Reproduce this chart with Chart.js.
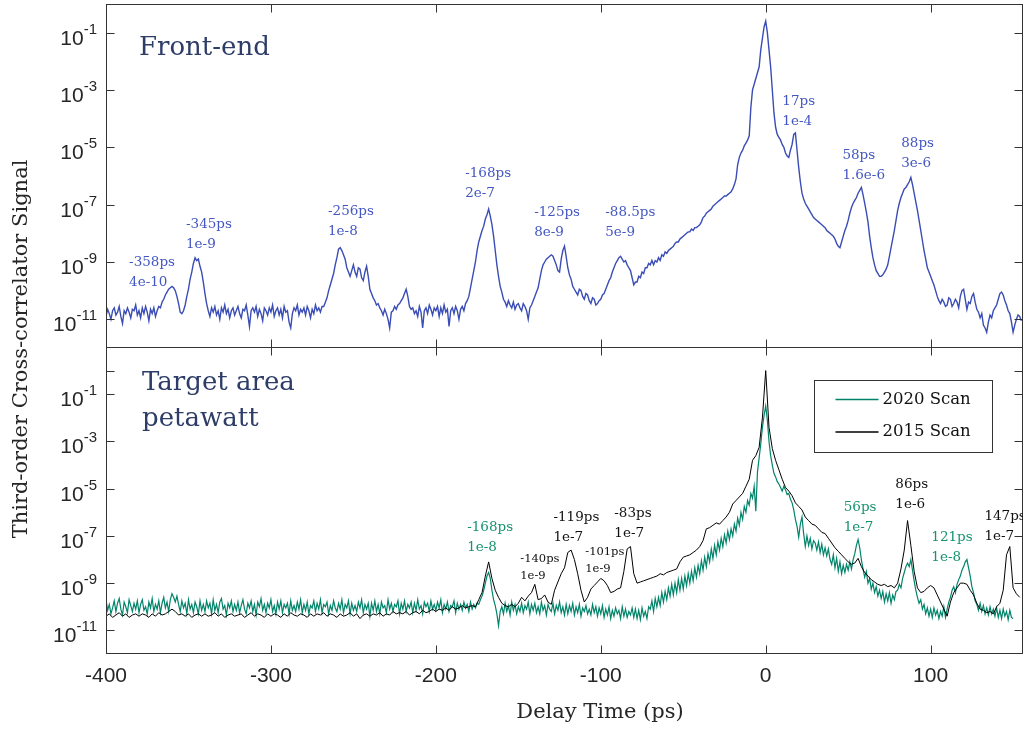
<!DOCTYPE html>
<html>
<head>
<meta charset="utf-8">
<title>Third-order cross-correlator scans</title>
<script src="https://cdn.jsdelivr.net/npm/chart.js@4.4.1/dist/chart.umd.min.js"></script>
<style>
  html, body { margin: 0; padding: 0; background: #fff; }
  #wrap { position: relative; width: 1023px; height: 729px; }
  #wrap canvas { position: absolute; left: 0; top: 0; }
</style>
</head>
<body>
<div id="wrap">
  <canvas id="frontEnd" width="1023" height="729"></canvas>
  <canvas id="targetArea" width="1023" height="729"></canvas>
</div>
<script>
// Delay grids from -400 ps: 1 ps steps (front-end, 2020) and 2 ps steps (2015)
const delayFine = Array.from({ length: 556 }, (_, i) => -400 + i);
const delayCoarse = Array.from({ length: 278 }, (_, i) => -400 + 2 * i);

// log10 of signal (one row = 20 ps)
const frontEndLog = [
  -10.9, -10.65, -10.8, -11.0, -10.7, -10.6, -10.85, -10.75, -10.55, -10.9, -11.15, -10.7, -10.8, -10.6, -10.75, -10.95, -10.65, -10.7, -10.5, -10.85,   // -400
  -10.7, -10.95, -10.6, -10.8, -10.55, -10.75, -11.05, -10.65, -10.8, -10.6, -10.9, -10.7, -10.55, -10.6, -10.4, -10.3, -10.15, -10.05, -9.95, -9.9,     // -380
  -9.85, -9.9, -10.0, -10.2, -10.45, -10.75, -10.8, -10.7, -10.5, -10.2, -9.95, -9.6, -9.35, -9.05, -8.85, -8.95, -8.9, -9.15, -9.35, -9.7,             // -360
  -10.1, -10.45, -10.7, -10.9, -10.6, -10.75, -10.55, -10.85, -10.7, -11.0, -10.6, -10.75, -10.5, -10.8, -10.65, -10.95, -10.7, -10.6, -10.85, -10.7,   // -340
  -10.55, -10.8, -10.95, -10.65, -10.7, -10.5, -10.85, -11.25, -10.7, -10.6, -10.75, -10.55, -10.9, -10.65, -10.8, -11.05, -10.6, -10.7, -10.85, -10.6, // -320
  -10.75, -10.5, -10.9, -10.7, -10.6, -10.85, -10.65, -10.95, -10.55, -10.75, -10.7, -11.1, -11.3, -10.8, -10.6, -10.7, -10.5, -10.85, -10.65, -10.75,  // -300
  -10.6, -10.85, -10.55, -10.7, -10.95, -10.65, -10.8, -10.5, -10.7, -10.6, -10.75, -10.55, -10.55, -10.4, -10.25, -10.0, -9.8, -9.6, -9.4, -9.1,       // -280
  -8.85, -8.55, -8.5, -8.6, -8.75, -8.9, -9.2, -9.35, -9.5, -9.3, -9.1, -9.35, -9.5, -9.2, -9.25, -9.55, -9.65, -9.35, -9.15, -9.5,                     // -260
  -9.95, -10.1, -10.25, -10.35, -10.5, -10.45, -10.6, -10.7, -10.85, -10.65, -10.8, -11.0, -11.3, -10.75, -10.7, -10.55, -10.65, -10.5, -10.45, -10.35, // -240
  -10.25, -10.1, -9.95, -10.2, -10.55, -10.65, -10.6, -10.8, -10.7, -10.9, -10.55, -10.75, -11.3, -10.7, -10.6, -10.8, -10.5, -10.65, -10.85, -10.6,    // -220
  -10.7, -10.55, -10.9, -10.6, -10.8, -10.5, -10.75, -10.65, -11.25, -10.7, -10.6, -10.8, -10.55, -10.7, -11.0, -10.65, -10.55, -10.7, -10.45, -10.35,  // -200
  -10.2, -9.9, -9.6, -9.3, -9.0, -8.6, -8.3, -8.1, -7.9, -7.75, -7.5, -7.35, -7.15, -7.4, -7.7, -8.1, -8.6, -9.1, -9.5, -9.85,                          // -180
  -10.05, -10.3, -10.4, -10.55, -10.35, -10.5, -10.6, -10.4, -10.65, -10.5, -10.45, -10.6, -10.7, -10.45, -10.55, -10.7, -11.0, -10.6, -10.5, -10.35,   // -160
  -10.2, -10.05, -9.9, -9.6, -9.3, -9.1, -9.0, -8.9, -8.85, -8.8, -8.75, -8.8, -8.95, -9.1, -9.3, -9.35, -8.9, -8.6, -8.45, -8.8,                       // -140
  -9.2, -9.45, -9.6, -9.85, -9.95, -10.05, -10.15, -9.95, -10.0, -10.2, -10.3, -10.1, -10.15, -10.35, -10.45, -10.25, -10.3, -10.5, -10.45, -10.35,     // -120
  -10.3, -10.15, -10.1, -9.95, -9.8, -9.65, -9.55, -9.35, -9.2, -9.05, -8.95, -8.85, -8.8, -8.9, -9.0, -8.95, -9.1, -9.2, -9.3, -9.55,                  // -100
  -9.8, -9.7, -9.7, -9.5, -9.55, -9.35, -9.4, -9.2, -9.2, -9.05, -9.1, -8.95, -9.1, -8.95, -9.0, -8.85, -8.95, -8.75, -8.8, -8.65,                      // -80
  -8.7, -8.6, -8.55, -8.5, -8.45, -8.35, -8.3, -8.3, -8.2, -8.15, -8.1, -8.05, -8.0, -7.95, -7.95, -7.85, -7.9, -7.8, -7.8, -7.75,                      // -60
  -7.7, -7.6, -7.45, -7.4, -7.3, -7.25, -7.2, -7.15, -7.05, -7.0, -6.95, -6.9, -6.85, -6.8, -6.75, -6.7, -6.7, -6.65, -6.6, -6.55,                      // -40
  -6.45, -6.3, -6.1, -5.6, -5.35, -5.2, -5.1, -4.95, -4.85, -4.75, -4.6, -3.6, -3.0, -2.8, -2.6, -2.4, -2.2, -1.6, -1.2, -0.8,                          // -20
  -0.6, -1.0, -1.6, -2.2, -3.0, -3.8, -4.3, -4.55, -4.65, -4.75, -4.9, -5.0, -5.2, -5.3, -5.35, -5.1, -4.9, -4.55, -4.5, -5.1,                          // 0
  -5.7, -6.2, -6.6, -6.8, -6.95, -7.05, -7.15, -7.25, -7.35, -7.45, -7.5, -7.55, -7.6, -7.65, -7.7, -7.75, -7.8, -7.9, -7.95, -8.0,                     // 20
  -8.05, -8.1, -8.2, -8.35, -8.45, -8.5, -8.3, -8.1, -7.9, -7.75, -7.55, -7.3, -7.1, -6.95, -6.85, -6.75, -6.6, -6.5, -6.4, -6.65,                      // 40
  -6.95, -7.25, -7.6, -8.1, -8.5, -8.85, -9.1, -9.3, -9.4, -9.5, -9.5, -9.45, -9.35, -9.25, -9.1, -8.8, -8.5, -8.2, -7.9, -7.55,                        // 60
  -7.2, -6.95, -6.75, -6.6, -6.45, -6.4, -6.3, -6.2, -6.05, -6.3, -6.6, -6.9, -7.2, -7.55, -7.9, -8.25, -8.6, -8.9, -9.2, -9.35,                        // 80
  -9.5, -9.65, -9.8, -10.0, -10.2, -10.35, -10.45, -10.3, -10.4, -10.55, -10.5, -10.25, -10.3, -10.55, -10.45, -10.3, -10.4, -10.6, -10.2, -10.0,       // 100
  -9.95, -10.3, -10.65, -10.4, -10.45, -10.2, -10.1, -10.4, -10.65, -10.75, -10.95, -10.8, -11.2, -11.3, -11.45, -11.1, -10.85, -10.95, -10.7, -10.6,   // 120
  -10.5, -10.3, -10.1, -10.05, -10.15, -10.35, -10.5, -10.7, -10.8, -11.1, -11.45, -11.2, -11.0, -10.85, -10.9, -11.05                                  // 140
];

const scan2020Log = [
  -9.7, -10.15, -9.9, -10.3, -10.05, -9.75, -10.2, -9.85, -9.65, -10.1, -10.35, -9.8, -10.0, -10.25, -9.7, -9.95, -10.2, -9.85, -10.1, -9.75,           // -400
  -10.25, -9.9, -9.7, -10.15, -10.0, -10.3, -9.8, -10.05, -9.65, -10.2, -9.9, -10.1, -9.75, -10.25, -9.85, -9.6, -10.05, -9.8, -10.2, -9.7,             // -380
  -9.45, -9.6, -9.8, -9.55, -9.9, -10.2, -9.75, -10.05, -9.85, -10.3, -9.7, -10.1, -9.9, -10.25, -9.8, -10.0, -10.3, -9.75, -10.15, -9.9,               // -360
  -10.2, -9.75, -10.05, -9.85, -10.3, -9.7, -10.15, -9.9, -10.25, -9.8, -9.65, -10.1, -9.95, -10.35, -9.85, -10.05, -9.75, -10.2, -9.9, -10.15,         // -340
  -9.8, -10.25, -9.95, -9.7, -10.1, -10.3, -9.85, -10.05, -9.75, -10.2, -9.9, -10.35, -9.8, -10.0, -9.65, -10.15, -9.9, -10.25, -9.85, -10.05,          // -320
  -9.7, -10.2, -9.95, -10.3, -9.8, -10.1, -9.75, -10.25, -9.9, -10.05, -9.85, -10.3, -9.75, -10.15, -9.95, -10.2, -9.8, -10.1, -9.7, -10.25,            // -300
  -9.9, -10.15, -9.8, -10.3, -9.95, -10.05, -9.75, -10.2, -9.85, -10.1, -9.7, -10.25, -9.9, -10.0, -9.8, -10.3, -9.95, -10.15, -9.75, -10.05,           // -280
  -10.2, -9.85, -10.1, -9.7, -10.25, -9.9, -10.05, -9.75, -10.3, -9.85, -10.15, -9.95, -10.2, -9.8, -10.05, -9.7, -10.25, -9.9, -10.1, -9.85,           // -260
  -10.4, -9.85, -10.15, -9.75, -10.2, -9.9, -10.3, -9.8, -10.05, -9.95, -10.25, -9.7, -10.1, -9.85, -10.2, -9.9, -10.0, -9.75, -10.3, -9.85,            // -240
  -10.1, -9.75, -10.2, -9.9, -10.05, -9.8, -10.25, -9.85, -10.15, -9.7, -10.1, -9.95, -10.3, -9.8, -10.0, -9.85, -10.2, -9.75, -10.1, -9.9,             // -220
  -10.15, -9.8, -10.05, -9.7, -10.25, -9.9, -10.1, -9.8, -10.2, -9.95, -10.0, -9.75, -10.25, -9.85, -10.1, -9.9, -10.15, -9.8, -10.05, -9.9,            // -200
  -10.2, -9.8, -10.1, -9.9, -10.05, -9.85, -9.9, -9.7, -9.55, -9.3, -9.0, -8.7, -8.55, -8.8, -9.3, -9.7, -9.95, -10.3, -10.8, -10.2,                   // -180
  -10.0, -10.3, -9.85, -10.2, -9.95, -10.35, -9.8, -10.15, -9.9, -10.3, -10.0, -10.2, -9.85, -10.25, -9.95, -10.1, -9.8, -10.3, -9.9, -10.15,           // -160
  -9.85, -10.25, -10.0, -10.3, -9.8, -10.15, -9.95, -10.35, -9.9, -10.1, -10.2, -9.85, -10.3, -9.95, -10.15, -9.8, -10.25, -10.0, -10.35, -9.9,         // -140
  -10.3, -9.95, -10.2, -9.85, -10.35, -10.0, -10.25, -9.9, -10.4, -10.05, -10.2, -9.95, -10.3, -10.1, -10.35, -9.9, -10.25, -10.0, -10.4, -10.05,       // -120
  -10.3, -9.95, -10.45, -10.1, -10.35, -10.0, -10.5, -10.15, -10.4, -10.05, -10.3, -10.15, -10.5, -10.0, -10.4, -10.1, -10.45, -10.2, -10.35, -10.05,   // -100
  -10.45, -10.1, -10.5, -10.15, -10.55, -10.05, -10.4, -10.2, -10.5, -10.0, -10.1, -9.75, -10.2, -9.65, -10.0, -9.6, -9.95, -9.4, -9.8, -9.35,          // -80
  -9.7, -9.2, -9.55, -9.05, -9.5, -9.0, -9.4, -8.85, -9.3, -8.8, -9.25, -8.7, -9.1, -8.6, -9.0, -8.5, -8.9, -8.35, -8.75, -8.25,                        // -60
  -8.6, -8.05, -8.45, -7.9, -8.3, -7.75, -8.1, -7.55, -7.95, -7.4, -7.8, -7.25, -7.6, -7.1, -7.45, -6.95, -7.3, -6.8, -7.15, -6.7,                      // -40
  -7.0, -6.5, -6.8, -6.25, -6.55, -6.0, -6.3, -5.75, -6.0, -5.5, -5.7, -5.2, -5.4, -4.9, -5.95, -4.3, -3.7, -3.1, -2.4, -1.9,                           // -20
  -1.5, -2.1, -3.0, -3.6, -4.0, -4.35, -4.5, -4.7, -4.8, -4.95, -5.1, -4.9, -5.05, -5.25, -5.2, -5.45, -5.6, -5.9, -6.3, -6.6,                          // 0
  -7.05, -6.5, -6.2, -6.9, -7.45, -7.0, -7.4, -7.1, -7.55, -7.2, -7.3, -7.6, -7.25, -7.7, -7.35, -7.8, -7.5, -7.85, -7.55, -8.0,                        // 20
  -8.2, -7.8, -8.35, -7.95, -8.5, -8.1, -8.6, -8.25, -8.55, -8.2, -8.45, -8.1, -8.4, -8.0, -7.75, -7.4, -7.15, -7.5, -8.0, -8.4,                        // 40
  -8.75, -8.5, -9.0, -8.8, -9.25, -9.0, -9.4, -9.15, -9.55, -9.3, -9.65, -9.35, -9.8, -9.45, -9.75, -9.4, -9.85, -9.5, -9.7, -9.35,                     // 60
  -9.3, -9.05, -9.2, -8.8, -8.55, -8.3, -8.15, -8.3, -8.0, -8.45, -8.9, -9.3, -9.6, -9.85, -9.7, -10.1, -9.9, -10.3, -10.05, -10.4,                     // 80
  -10.1, -10.45, -10.05, -10.35, -10.15, -10.5, -10.2, -10.4, -10.0, -10.45, -10.1, -9.8, -9.6, -9.3, -9.15, -9.4, -9.05, -8.85, -8.7, -8.45,           // 100
  -8.3, -8.1, -8.0, -8.35, -8.7, -9.15, -9.4, -9.75, -9.9, -10.15, -9.85, -10.2, -9.95, -10.3, -10.05, -10.35, -10.0, -10.3, -10.1, -10.4,              // 120
  -10.05, -10.45, -10.15, -10.5, -10.1, -10.4, -10.2, -10.55, -10.15, -10.45, -10.5                                                                  // 140
];

const scan2015Log = [
  -10.4, -10.3, -10.45, -10.35, -10.25, -10.4, -10.3, -10.45, -10.35, -10.3,   // -400
  -10.4, -10.3, -10.35, -10.45, -10.3, -10.4, -10.25, -10.35, -10.3, -10.2,    // -380
  -10.1, -10.2, -10.35, -10.3, -10.4, -10.3, -10.45, -10.35, -10.3, -10.4,     // -360
  -10.3, -10.4, -10.35, -10.25, -10.4, -10.3, -10.45, -10.35, -10.3, -10.4,    // -340
  -10.35, -10.3, -10.45, -10.35, -10.25, -10.4, -10.3, -10.35, -10.45, -10.3,  // -320
  -10.4, -10.3, -10.35, -10.45, -10.3, -10.4, -10.25, -10.35, -10.4, -10.3,    // -300
  -10.35, -10.45, -10.3, -10.4, -10.3, -10.35, -10.25, -10.4, -10.3, -10.35,   // -280
  -10.45, -10.3, -10.4, -10.35, -10.25, -10.4, -10.3, -10.5, -10.35, -10.3,    // -260
  -10.4, -10.3, -10.35, -10.25, -10.4, -10.3, -10.35, -10.2, -10.3, -10.25,    // -240
  -10.3, -10.2, -10.35, -10.25, -10.2, -10.3, -10.15, -10.25, -10.2, -10.1,    // -220
  -10.2, -10.1, -10.15, -10.05, -10.15, -10.0, -10.1, -10.05, -9.95, -10.05,   // -200
  -10.0, -9.95, -10.0, -9.7, -9.4, -8.7, -8.1, -8.8, -9.3, -9.6,               // -180
  -9.85, -9.95, -10.0, -9.9, -10.0, -9.85, -9.6, -9.75, -9.55, -9.4,           // -160
  -9.05, -9.7, -9.65, -9.5, -9.8, -9.9, -9.3, -8.95, -8.6, -8.35,              // -140
  -7.7, -7.6, -8.0, -8.6, -9.3, -9.8, -9.6, -9.25, -9.1, -8.95,                // -120
  -8.8, -8.9, -9.1, -9.4, -9.35, -9.25, -9.2, -8.5, -7.55, -7.45,              // -100
  -8.6, -9.0, -8.95, -8.9, -8.85, -8.8, -8.75, -8.7, -8.6, -8.65,              // -80
  -8.55, -8.5, -8.45, -8.4, -8.1, -7.9, -7.85, -7.8, -7.7, -7.6,               // -60
  -7.45, -7.2, -6.7, -6.65, -6.55, -6.45, -6.5, -6.35, -6.2, -6.0,             // -40
  -5.65, -5.5, -5.35, -5.2, -4.9, -4.6, -3.8, -3.6, -3.25, -2.0,               // -20
  0.0, -2.4, -3.3, -3.8, -4.2, -4.6, -4.95, -5.1, -5.3, -5.6,                  // 0
  -5.75, -5.9, -6.2, -6.35, -6.5, -6.55, -6.7, -6.85, -6.9, -7.1,              // 20
  -7.3, -7.5, -7.65, -7.8, -7.95, -8.1, -8.2, -8.15, -7.95, -8.3,              // 40
  -8.55, -8.7, -8.85, -8.95, -9.05, -9.1, -9.05, -9.15, -9.1, -9.2,            // 60
  -9.0, -8.4, -7.6, -6.35, -7.4, -8.5, -9.2, -9.4, -9.35, -9.2,                // 80
  -9.1, -9.2, -9.5, -9.8, -10.1, -10.4, -9.8, -9.4, -9.2, -9.0,                // 100
  -9.0, -9.05, -9.3, -9.5, -9.85, -10.1, -10.15, -10.25, -10.2, -10.3,         // 120
  -10.0, -9.85, -9.3, -7.8, -7.45, -9.2, -9.45, -9.6                           // 140
];

const xTickValues = [-400, -300, -200, -100, 0, 100];
const topExponents = [-11, -9, -7, -5, -3, -1];
const bottomExponents = [-11, -9, -7, -5, -3, -1];

// Peak notes: left edge (ps) and centre of first line (log10)
const frontEndNotes = [
  { ps: -386.0, exp: -9.02, lines: ['-358ps', '4e-10'] },
  { ps: -351.5, exp: -7.70, lines: ['-345ps', '1e-9'] },
  { ps: -265.4, exp: -7.24, lines: ['-256ps', '1e-8'] },
  { ps: -182.2, exp: -5.92, lines: ['-168ps', '2e-7'] },
  { ps: -140.4, exp: -7.28, lines: ['-125ps', '8e-9'] },
  { ps: -97.3, exp: -7.28, lines: ['-88.5ps', '5e-9'] },
  { ps: 10.1, exp: -3.41, lines: ['17ps', '1e-4'] },
  { ps: 46.5, exp: -5.29, lines: ['58ps', '1.6e-6'] },
  { ps: 82.2, exp: -4.87, lines: ['88ps', '3e-6'] }
];
const targetNotes = [
  { ps: -181.0, exp: -6.64, lines: ['-168ps', '1e-8'], scan: 2020 },
  { ps: -148.8, exp: -7.98, lines: ['-140ps', '1e-9'], scan: 2015, small: true },
  { ps: -128.7, exp: -6.22, lines: ['-119ps', '1e-7'], scan: 2015 },
  { ps: -109.4, exp: -7.70, lines: ['-101ps', '1e-9'], scan: 2015, small: true },
  { ps: -91.8, exp: -6.03, lines: ['-83ps', '1e-7'], scan: 2015 },
  { ps: 47.3, exp: -5.78, lines: ['56ps', '1e-7'], scan: 2020 },
  { ps: 78.6, exp: -4.84, lines: ['86ps', '1e-6'], scan: 2015 },
  { ps: 100.4, exp: -7.07, lines: ['121ps', '1e-8'], scan: 2020 },
  { ps: 132.6, exp: -6.18, lines: ['147ps', '1e-7'], scan: 2015 }
];

const blueLine = '#3a4cb5';
const blueText = '#4456c2';
const greenLine = '#00846a';
const greenText = '#17926f';
const titleColor = '#2d3d68';
const axisColor = '#333333';
const tickFont = '"Liberation Sans", Arial, sans-serif';
const serifFont = '"DejaVu Serif", serif';

function toPoints(logs, grid) {
  return logs.map((e, i) => ({ x: grid[i], y: Math.pow(10, e) }));
}

function drawPower(ctx, exp, right, y) {
  ctx.textAlign = 'right';
  ctx.textBaseline = 'alphabetic';
  ctx.font = '15px ' + tickFont;
  const sup = String(exp);
  ctx.fillText(sup, right, y + 1);
  const w = ctx.measureText(sup).width;
  ctx.font = '21px ' + tickFont;
  ctx.fillText('10', right - w, y + 12);
}

// Frame, inward ticks, labels and notes for one panel
const panelPlugin = {
  id: 'panel',
  afterDatasetsDraw(chart, args, opts) {
    const ctx = chart.ctx;
    const a = chart.chartArea;
    const xs = chart.scales.x;
    const ys = chart.scales.y;
    const L = Math.round(a.left) + 0.5;
    const R = Math.round(a.right) - 0.5;
    const T = Math.round(a.top) + 0.5;
    const B = Math.round(a.bottom) - 0.5;

    ctx.save();
    ctx.strokeStyle = axisColor;
    ctx.lineWidth = 1;
    ctx.strokeRect(L, T, R - L, B - T);

    ctx.beginPath();
    xTickValues.slice(1).forEach(v => {
      const px = Math.round(xs.getPixelForValue(v)) + 0.5;
      ctx.moveTo(px, T); ctx.lineTo(px, T + 8);
      ctx.moveTo(px, B); ctx.lineTo(px, B - 8);
    });
    opts.tickExponents.forEach(e => {
      const py = Math.round(ys.getPixelForValue(Math.pow(10, e))) + 0.5;
      ctx.moveTo(L, py); ctx.lineTo(L + 8, py);
      ctx.moveTo(R, py); ctx.lineTo(R - 8, py);
    });
    ctx.stroke();

    ctx.fillStyle = '#262626';
    opts.labelExponents.forEach(e => {
      drawPower(ctx, e, a.left - 9, ys.getPixelForValue(Math.pow(10, e)));
    });

    if (opts.xLabels) {
      ctx.font = '21px ' + tickFont;
      ctx.textAlign = 'center';
      ctx.textBaseline = 'middle';
      xTickValues.forEach(v => ctx.fillText(String(v), xs.getPixelForValue(v), a.bottom + 22));
    }

    // panel title
    ctx.fillStyle = titleColor;
    ctx.font = '26px ' + serifFont;
    ctx.textAlign = 'left';
    ctx.textBaseline = 'alphabetic';
    opts.title.forEach((t, i) => ctx.fillText(t, a.left + opts.titleX, a.top + opts.titleY + i * 36));

    // peak notes
    ctx.textBaseline = 'middle';
    opts.notes.forEach(n => {
      const px = xs.getPixelForValue(n.ps);
      const py = ys.getPixelForValue(Math.pow(10, n.exp));
      ctx.fillStyle = n.scan === 2015 ? '#111' : (n.scan === 2020 ? greenText : blueText);
      ctx.font = (n.small ? '11.5px ' : '13.5px ') + serifFont;
      const gap = n.small ? 17 : 20;
      n.lines.forEach((t, i) => ctx.fillText(t, px, py + i * gap));
    });

    if (opts.legend) {
      const bx = Math.round(a.right) - 208.5;
      const by = Math.round(a.top) + 33.5;
      ctx.fillStyle = '#fff';
      ctx.fillRect(bx, by, 178, 72);
      ctx.strokeStyle = axisColor;
      ctx.strokeRect(bx, by, 178, 72);
      ctx.font = '16.5px ' + serifFont;
      ctx.textBaseline = 'middle';
      ctx.lineWidth = 1.3;
      [['2020 Scan', greenLine, 19], ['2015 Scan', '#000', 51.5]].forEach(([label, color, dy]) => {
        ctx.strokeStyle = color;
        ctx.beginPath();
        ctx.moveTo(bx + 21, by + dy); ctx.lineTo(bx + 64, by + dy);
        ctx.stroke();
        ctx.fillStyle = '#111';
        ctx.fillText(label, bx + 68, by + dy);
      });
    }

    if (opts.axisTitles) {
      ctx.fillStyle = '#262626';
      ctx.font = '21px ' + serifFont;
      ctx.textAlign = 'center';
      ctx.textBaseline = 'middle';
      ctx.fillText('Delay Time (ps)', 600, 713);
      ctx.translate(22, 349);
      ctx.rotate(-Math.PI / 2);
      ctx.fillText('Third-order Cross-correlator Signal', 0, 0);
    }
    ctx.restore();
  }
};

function baseOptions(padding, yMax, panel) {
  return {
    responsive: false,
    animation: false,
    devicePixelRatio: 1,
    layout: { padding: padding },
    events: [],
    scales: {
      x: { type: 'linear', min: -400, max: 156, display: false },
      y: { type: 'logarithmic', min: 1e-12, max: yMax, display: false }
    },
    plugins: { legend: { display: false }, tooltip: { enabled: false }, panel: panel }
  };
}

new Chart(document.getElementById('frontEnd'), {
  type: 'line',
  data: {
    datasets: [{
      label: 'Front-end',
      data: toPoints(frontEndLog, delayFine),
      borderColor: blueLine,
      borderWidth: 1.4,
      pointRadius: 0,
      tension: 0
    }]
  },
  options: baseOptions({ left: 106, right: 0, top: 4, bottom: 381 }, 1, {
    tickExponents: topExponents,
    labelExponents: topExponents,
    title: ['Front-end'],
    titleX: 33,
    titleY: 51,
    notes: frontEndNotes
  }),
  plugins: [panelPlugin]
});

new Chart(document.getElementById('targetArea'), {
  type: 'line',
  data: {
    datasets: [{
      label: '2015 Scan',
      data: toPoints(scan2015Log, delayCoarse),
      borderColor: '#000',
      borderWidth: 1,
      pointRadius: 0,
      tension: 0,
      order: 0
    }, {
      label: '2020 Scan',
      data: toPoints(scan2020Log, delayFine),
      borderColor: greenLine,
      borderWidth: 1.2,
      pointRadius: 0,
      tension: 0,
      order: 1
    }]
  },
  options: baseOptions({ left: 106, right: 0, top: 347, bottom: 75 }, 10, {
    tickExponents: [0].concat(bottomExponents),
    labelExponents: bottomExponents,
    title: ['Target area', 'petawatt'],
    titleX: 36,
    titleY: 43,
    notes: targetNotes,
    xLabels: true,
    legend: true,
    axisTitles: true
  }),
  plugins: [panelPlugin]
});
</script>
</body>
</html>
